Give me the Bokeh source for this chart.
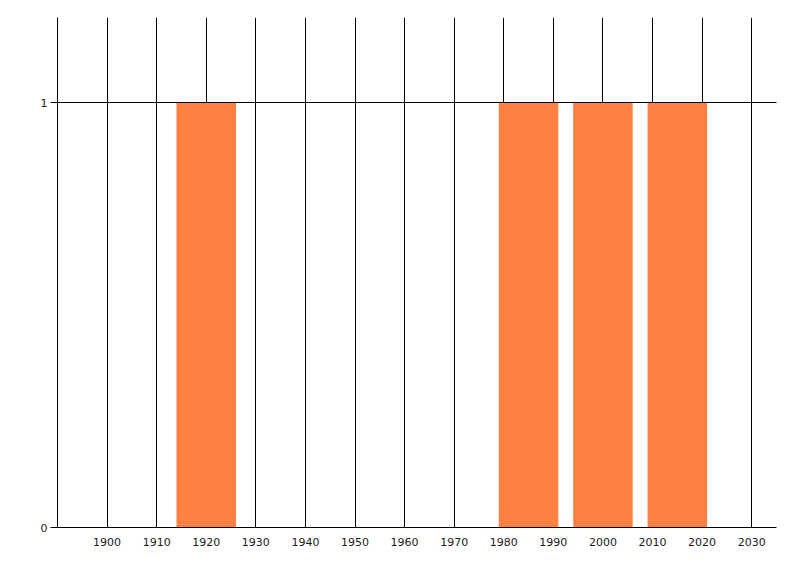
from bokeh.plotting import figure
from bokeh.models import FixedTicker, Range1d
from bokeh.embed import file_html
from bokeh.resources import INLINE

# bar data
years = [1920, 1985, 2000, 2015]
counts = [1, 1, 1, 1]
bar_width = 12
x_ticks = list(range(1900, 2031, 10))
grid_ticks = list(range(1890, 2031, 10))
y_ticks = [0, 1]

p = figure(width=792, height=568, output_backend="svg", toolbar_location=None,
           x_range=Range1d(1890, 2035), y_range=Range1d(0, 1.2),
           min_border_left=57, min_border_right=16, min_border_top=17, min_border_bottom=41)
p.outline_line_color = None
p.background_fill_color = "white"

p.vbar(x=years, top=counts, width=bar_width, color="#FF8040", line_color=None)

p.xaxis.ticker = FixedTicker(ticks=x_ticks)
p.xaxis.major_tick_line_color = None
p.xaxis.minor_tick_line_color = None
p.xaxis.axis_line_color = "black"
p.xaxis.major_label_text_font = "DejaVu Sans"
p.xaxis.major_label_text_font_size = "11px"
p.xaxis.major_label_text_color = "#1a1a1a"
p.xaxis.major_label_standoff = 4

p.yaxis.ticker = FixedTicker(ticks=y_ticks)
p.yaxis.major_tick_out = 7
p.yaxis.major_tick_in = 0
p.yaxis.minor_tick_line_color = None
p.yaxis.axis_line_color = "black"
p.yaxis.major_tick_line_color = "black"
p.yaxis.major_label_text_font = "DejaVu Sans"
p.yaxis.major_label_text_font_size = "11px"
p.yaxis.major_label_text_color = "#1a1a1a"
p.yaxis.major_label_standoff = 3

p.xgrid.ticker = FixedTicker(ticks=grid_ticks)
p.xgrid.grid_line_color = "black"
p.xgrid.grid_line_width = 1
p.ygrid.ticker = FixedTicker(ticks=y_ticks)
p.ygrid.grid_line_color = "black"
p.ygrid.level = "overlay"

open("out.html", "w").write(file_html(p, INLINE))
